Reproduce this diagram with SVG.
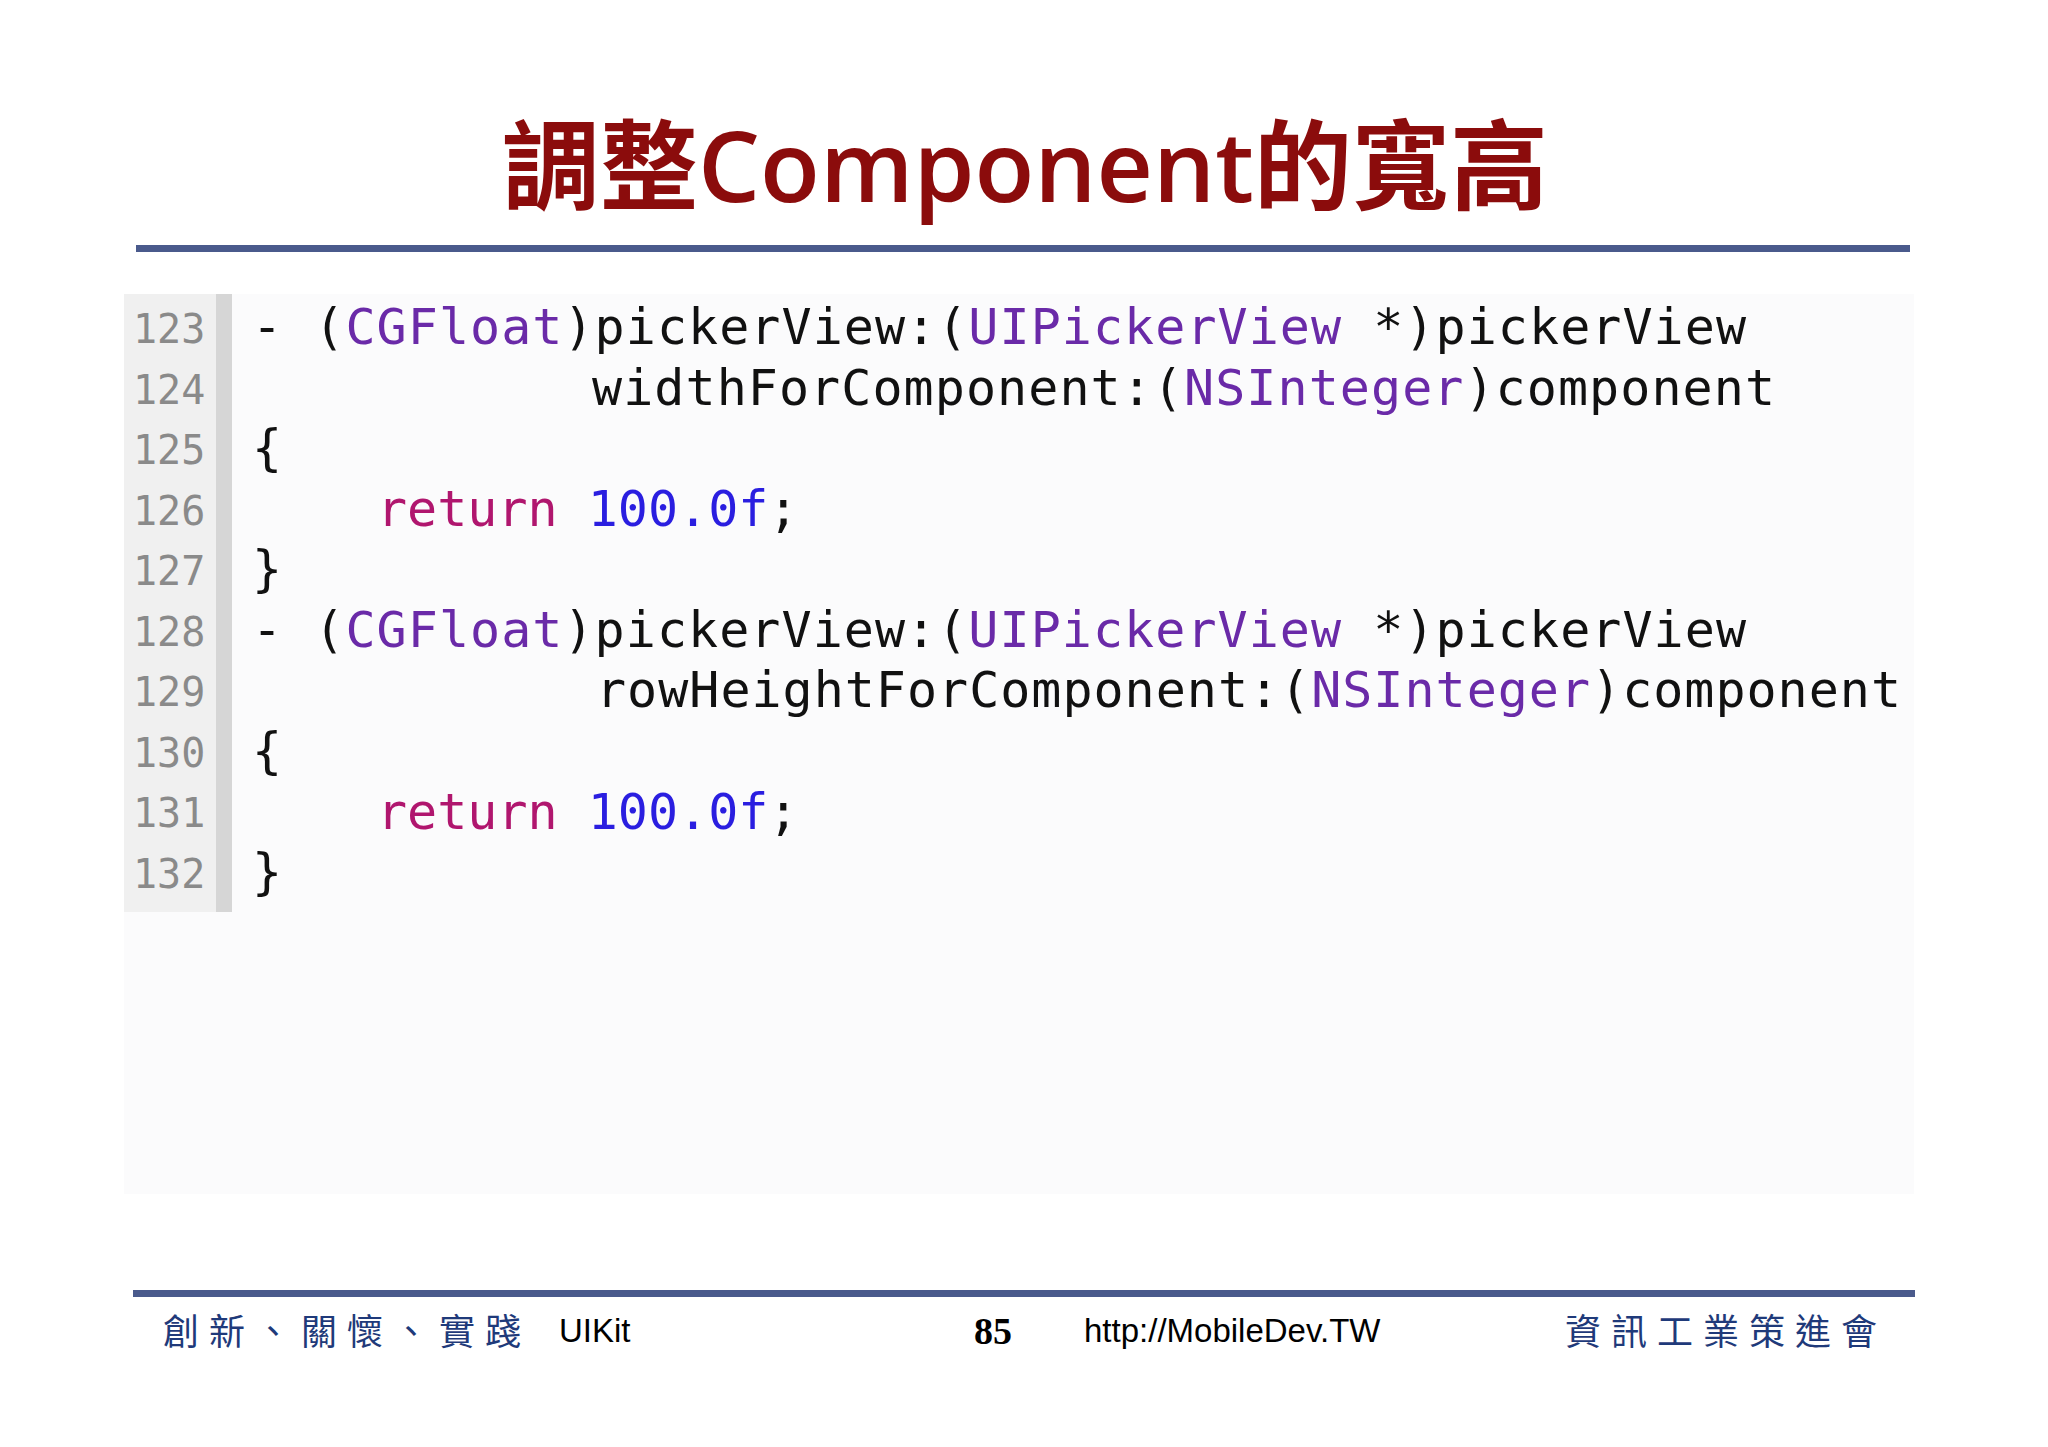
<svg xmlns="http://www.w3.org/2000/svg" width="2048" height="1447" viewBox="0 0 2048 1447">
<style>
.c{font-family:"DejaVu Sans Mono","Liberation Mono",monospace;font-size:50px;fill:#111;white-space:pre}
.n{font-family:"DejaVu Sans Mono","Liberation Mono",monospace;font-size:40px;fill:#8a8a8a}
.t{fill:#6a2aa8}.k{fill:#b0166e}.v{fill:#2a1ee0}
.f{font-family:"Liberation Serif","Noto Sans CJK TC",serif;font-size:36px;fill:#1f3a7a;letter-spacing:10px}
.s{font-family:"Liberation Sans",Arial,sans-serif;font-size:33px;fill:#000}
</style>
<rect width="2048" height="1447" fill="#fff"/>
<g id="title"><text x="1025" y="202" text-anchor="middle" font-family="'Open Sans','Noto Sans CJK TC',sans-serif" font-size="98" font-weight="600" fill="#8b0c0c">調整Component的寬高</text></g>
<rect x="136" y="245" width="1774" height="7" fill="#4a5a8c"/>
<g id="code">
<rect x="124" y="294" width="1790" height="900" fill="#fbfbfc"/>
<rect x="124" y="294" width="108" height="618" fill="#f0f0f0"/>
<rect x="216" y="294" width="16" height="618" fill="#d6d6d6"/>
<g class="n">
<text x="133" y="343">123</text><text x="133" y="404">124</text><text x="133" y="464">125</text><text x="133" y="525">126</text><text x="133" y="585">127</text><text x="133" y="646">128</text><text x="133" y="706">129</text><text x="133" y="767">130</text><text x="133" y="827">131</text><text x="133" y="888">132</text>
</g>
<text class="c" x="252" y="344" textLength="1494">- (<tspan class="t">CGFloat</tspan>)pickerView:(<tspan class="t">UIPickerView</tspan> *)pickerView</text>
<text class="c" x="592" y="405" textLength="1183">widthForComponent:(<tspan class="t">NSInteger</tspan>)component</text>
<text class="c" x="252" y="465">{</text>
<text class="c" x="377" y="526"><tspan class="k">return</tspan> <tspan class="v">100.0f</tspan>;</text>
<text class="c" x="252" y="586">}</text>
<text class="c" x="252" y="647" textLength="1494">- (<tspan class="t">CGFloat</tspan>)pickerView:(<tspan class="t">UIPickerView</tspan> *)pickerView</text>
<text class="c" x="596" y="707" textLength="1305">rowHeightForComponent:(<tspan class="t">NSInteger</tspan>)component</text>
<text class="c" x="252" y="768">{</text>
<text class="c" x="377" y="829"><tspan class="k">return</tspan> <tspan class="v">100.0f</tspan>;</text>
<text class="c" x="252" y="889">}</text>
</g>
<rect x="133" y="1290" width="1782" height="7" fill="#4a5a8c"/>
<g id="footer">
<text class="f" x="163" y="1345">創新、關懷、實踐</text>
<text class="s" x="559" y="1342">UIKit</text>
<text x="974" y="1344" font-family="'Liberation Serif',serif" font-size="38" font-weight="bold">85</text>
<text class="s" x="1084" y="1342">http://MobileDev.TW</text>
<text class="f" x="1565" y="1345">資訊工業策進會</text>
</g>
</svg>
